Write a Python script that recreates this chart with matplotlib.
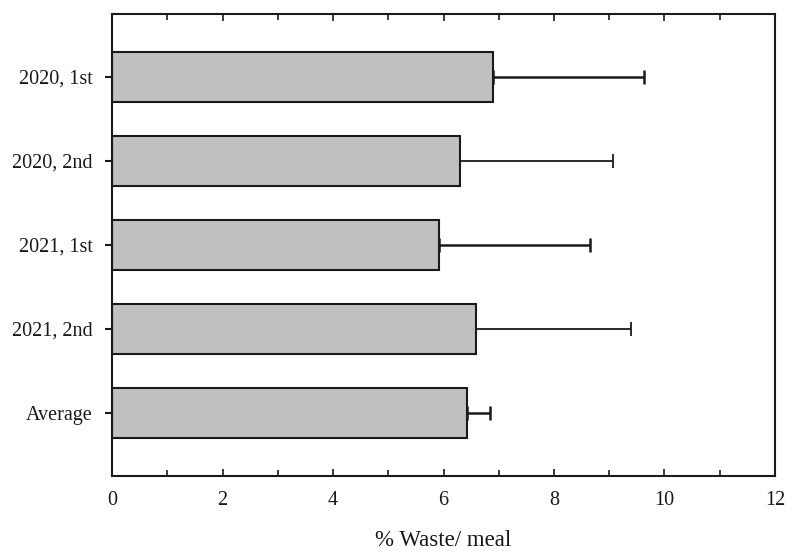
import matplotlib
matplotlib.use("Agg")
import matplotlib.pyplot as plt
from matplotlib.ticker import MultipleLocator

categories = ["2020, 1st", "2020, 2nd", "2021, 1st", "2021, 2nd", "Average"]
values = [6.90, 6.30, 5.92, 6.58, 6.43]
errors = [2.73, 2.76, 2.73, 2.82, 0.41]
err_lw = [1.8, 1.3, 1.8, 1.3, 1.8]
x_ticks = [0, 2, 4, 6, 8, 10, 12]

plt.rcParams['font.family'] = ['Liberation Serif', 'DejaVu Serif']

fig = plt.figure(figsize=(7.86, 5.51), dpi=100)
ax = fig.add_axes([0.1425, 0.1361, 0.8435, 0.8385])

ypos = list(range(len(categories)))
ax.barh(ypos, values, height=0.6, color="#c0c0c0", edgecolor="#1a1a1a", linewidth=1.5, zorder=2)
for y, v, e, lw in zip(ypos, values, errors, err_lw):
    ax.errorbar(v, y, xerr=[[0], [e]], fmt='none', ecolor="#1a1a1a",
                elinewidth=lw, capsize=5, capthick=lw, zorder=3)

ax.set_xlim(0, 12)
ax.set_ylim(4.75, -0.75)
ax.set_xticks(x_ticks)
ax.set_xticklabels([str(t) for t in x_ticks])
ax.xaxis.set_minor_locator(MultipleLocator(1))
ax.set_yticks(ypos)
ax.set_yticklabels(categories)

ax.tick_params(axis='x', which='major', direction='in', length=5, width=1.2,
               top=True, labelsize=14.5, pad=11, colors='#1a1a1a')
ax.tick_params(axis='x', which='minor', direction='in', length=4, width=1.2, top=True, colors='#1a1a1a')
ax.tick_params(axis='y', which='major', direction='out', length=5, width=1.5,
               labelsize=14.5, pad=9, colors='#1a1a1a')
for s in ax.spines.values():
    s.set_linewidth(1.5)
    s.set_color('#1a1a1a')

ax.set_xlabel("% Waste/ meal", fontsize=16.5, labelpad=14, color='#1a1a1a')

fig.savefig("out.png", dpi=100)
